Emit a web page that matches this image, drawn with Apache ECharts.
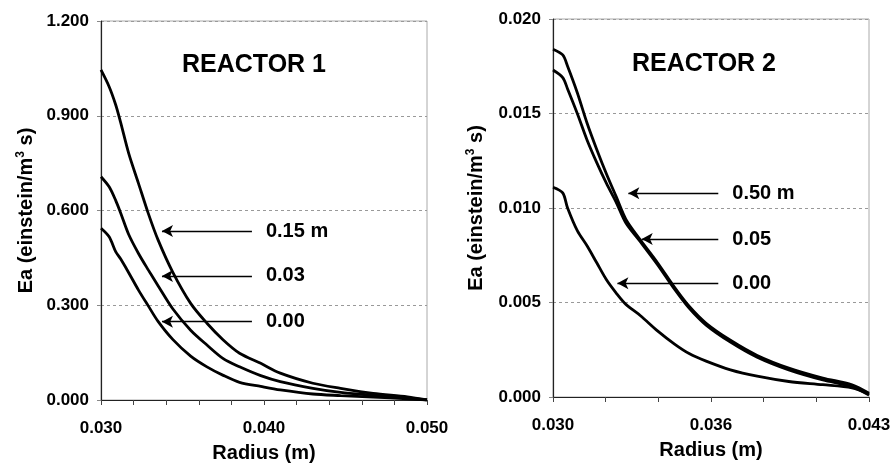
<!DOCTYPE html>
<html>
<head>
<meta charset="utf-8">
<script src="https://cdn.jsdelivr.net/npm/echarts@6/dist/echarts.min.js"></script>
<style>
html, body { margin: 0; padding: 0; background: #fff; }
#chart { width: 891px; height: 463px; }
</style>
</head>
<body>
<div id="chart"></div>
<script>
// reactor 1 (radius in m, Ea in einstein/m3 s)
var radius1 = [0.0300, 0.0305, 0.0309, 0.0312, 0.0317, 0.0323, 0.0329, 0.0335, 0.0344, 0.0355, 0.0365, 0.0375, 0.0385, 0.0398, 0.0410, 0.0430, 0.0447, 0.0467, 0.0488, 0.0500];
var ea1_015 = [1.045, 0.992, 0.935, 0.880, 0.781, 0.686, 0.591, 0.507, 0.405, 0.306, 0.243, 0.190, 0.148, 0.116, 0.085, 0.053, 0.037, 0.021, 0.010, 0.000];
var ea1_003 = [0.707, 0.675, 0.632, 0.593, 0.524, 0.464, 0.412, 0.362, 0.289, 0.221, 0.174, 0.131, 0.105, 0.077, 0.058, 0.037, 0.024, 0.015, 0.006, 0.000];
var ea1_000 = [0.544, 0.517, 0.470, 0.447, 0.403, 0.348, 0.298, 0.249, 0.192, 0.139, 0.105, 0.078, 0.056, 0.043, 0.032, 0.019, 0.014, 0.009, 0.004, 0.000];

// reactor 2
var radius2 = [0.0300, 0.0304, 0.0306, 0.0310, 0.0314, 0.0318, 0.0322, 0.0326, 0.0330, 0.0336, 0.0343, 0.0350, 0.0356, 0.0363, 0.0373, 0.0384, 0.0397, 0.0411, 0.0423, 0.0430];
var ea2_050 = [0.0184, 0.0181, 0.0175, 0.0161, 0.0145, 0.0131, 0.0118, 0.0106, 0.0094, 0.0083, 0.0071, 0.0058, 0.0048, 0.0039, 0.0030, 0.0022, 0.00153, 0.0010, 0.00065, 0.0002];
var ea2_005 = [0.0173, 0.0169, 0.0163, 0.0150, 0.0136, 0.0124, 0.0113, 0.0103, 0.0092, 0.0082, 0.0070, 0.0057, 0.0047, 0.0038, 0.0029, 0.0021, 0.00143, 0.0009, 0.00055, 0.0001];
var ea2_000 = [0.0111, 0.0108, 0.0100, 0.0088, 0.0080, 0.0071, 0.0062, 0.0055, 0.0049, 0.0043, 0.0035, 0.0028, 0.0023, 0.0019, 0.00144, 0.0011, 0.00082, 0.00065, 0.00048, 0.00015];

// axis ticks and labels
var xTicks1 = [0.030, 0.032, 0.034, 0.036, 0.038, 0.040, 0.042, 0.044, 0.046, 0.048, 0.050];
var xLabelVals1 = [0.030, 0.040, 0.050];
var xLabels1 = ['0.030', '0.040', '0.050'];
var xTicks2 = [0.030, 0.03217, 0.03433, 0.0365, 0.03867, 0.04083, 0.043];
var xLabelVals2 = [0.030, 0.0365, 0.043];
var xLabels2 = ['0.030', '0.036', '0.043'];

// arrow annotations: [text, x at arrow head, x at tail, y]
var notes1 = [['0.15 m', 0.03374, 0.03926, 0.535], ['0.03', 0.03374, 0.03926, 0.393], ['0.00', 0.03374, 0.03926, 0.248]];
var notes2 = [['0.50 m', 0.03310, 0.03680, 0.01078], ['0.05', 0.03365, 0.03680, 0.00836], ['0.00', 0.03265, 0.03680, 0.00602]];

var FONT = '"Liberation Sans", Arial, sans-serif';

function pairs(xs, ys) {
	return xs.map(function (x, i) { return [x, ys[i]]; });
}

function xAxisFor(idx, min, max, ticks, labelVals, labels) {
	return {
		type: 'value', gridIndex: idx, min: min, max: max,
		name: 'Radius (m)', nameLocation: 'middle', nameGap: 43,
		nameTextStyle: { color: '#000', fontSize: 20, fontWeight: 'bold', fontFamily: FONT },
		axisLine: { lineStyle: { color: '#222', width: 1.2 } },
		axisTick: { show: true, length: 5, customValues: ticks, lineStyle: { color: '#444' } },
		axisLabel: {
			customValues: labelVals, margin: 20, color: '#000', fontSize: 17, fontWeight: 'bold', fontFamily: FONT,
			formatter: function (v) {
				for (var i = 0; i < labelVals.length; i++) {
					if (Math.abs(labelVals[i] - v) < 1e-6) return labels[i];
				}
				return '';
			}
		},
		splitLine: { show: false }
	};
}

function yAxisFor(idx, max, interval, gap) {
	return {
		type: 'value', gridIndex: idx, min: 0, max: max, interval: interval,
		name: 'Ea (einstein/m{sup|3} s)', nameLocation: 'middle', nameGap: gap,
		nameTextStyle: {
			color: '#000', fontSize: 20, fontWeight: 'bold', fontFamily: FONT,
			rich: { sup: { fontSize: 12, fontWeight: 'bold', fontFamily: FONT, color: '#000', padding: [0, 0, 10, 0] } }
		},
		axisLine: { show: true, lineStyle: { color: '#222', width: 1.2 } },
		axisTick: { show: true, length: 4, lineStyle: { color: '#888' } },
		axisLabel: {
			margin: 12, color: '#000', fontSize: 17, fontWeight: 'bold', fontFamily: FONT,
			formatter: function (v) { return v.toFixed(3); }
		},
		splitLine: { show: true, lineStyle: { color: '#999', type: [3, 3], width: 1 } }
	};
}

function curve(name, idx, xs, ys, note) {
	var s = {
		name: name, type: 'line', xAxisIndex: idx, yAxisIndex: idx,
		data: pairs(xs, ys), showSymbol: false, smooth: 0.3,
		lineStyle: { color: '#000', width: 2.8 },
		emphasis: { disabled: true }
	};
	if (note) {
		s.markLine = {
			silent: true, animation: false,
			symbol: ['none', 'arrow'], symbolSize: [9, 11],
			lineStyle: { color: '#000', width: 1.4, type: 'solid' },
			label: { show: true, position: 'start', distance: 14, formatter: note[0], color: '#000', fontSize: 20, fontWeight: 'bold', fontFamily: FONT },
			data: [[{ coord: [note[2], note[3]] }, { coord: [note[1], note[3]] }]]
		};
	}
	return s;
}

var chart = echarts.init(document.getElementById('chart'));
chart.setOption({
	backgroundColor: '#fff',
	animation: false,
	title: [
		{ text: 'REACTOR 1', left: 249, top: 48, textAlign: 'center', textStyle: { color: '#000', fontSize: 25, fontWeight: 'bold', fontFamily: FONT } },
		{ text: 'REACTOR 2', left: 699, top: 47, textAlign: 'center', textStyle: { color: '#000', fontSize: 25, fontWeight: 'bold', fontFamily: FONT } }
	],
	grid: [
		{ left: 101, top: 21, width: 326, height: 379, outerBoundsMode: 'none', show: true, borderColor: '#aaa', borderWidth: 1 },
		{ left: 553, top: 19, width: 316, height: 378, outerBoundsMode: 'none', show: true, borderColor: '#aaa', borderWidth: 1 }
	],
	xAxis: [
		xAxisFor(0, 0.030, 0.050, xTicks1, xLabelVals1, xLabels1),
		xAxisFor(1, 0.030, 0.043, xTicks2, xLabelVals2, xLabels2)
	],
	yAxis: [
		yAxisFor(0, 1.2, 0.3, 64),
		yAxisFor(1, 0.02, 0.005, 66)
	],
	series: [
		curve('0.15 m', 0, radius1, ea1_015, notes1[0]),
		curve('0.03', 0, radius1, ea1_003, notes1[1]),
		curve('0.00', 0, radius1, ea1_000, notes1[2]),
		curve('0.50 m', 1, radius2, ea2_050, notes2[0]),
		curve('0.05', 1, radius2, ea2_005, notes2[1]),
		curve('0.00', 1, radius2, ea2_000, notes2[2])
	]
});
</script>
</body>
</html>
